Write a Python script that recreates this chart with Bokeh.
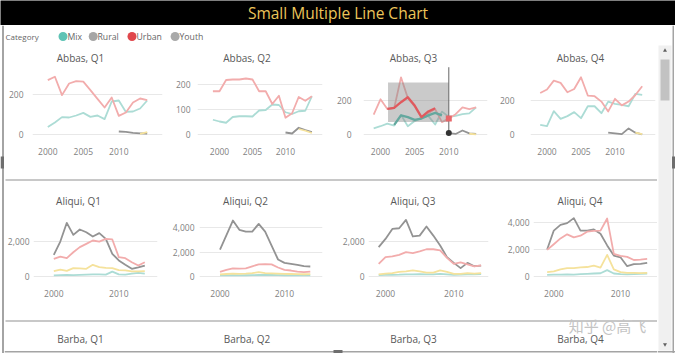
from bokeh.plotting import figure
from bokeh.layouts import column, row
from bokeh.models import Range1d, Label, FixedTicker, NumeralTickFormatter
from bokeh.embed import file_html
from bokeh.resources import INLINE
from bokeh.core.properties import value
from bokeh.core.validation import silence
from bokeh.core.validation.warnings import MISSING_RENDERERS

silence(MISSING_RENDERERS, True)

FONT = "Open Sans"

# ---------------- data ----------------
TITLE = "Small Multiple Line Chart"
LEGEND_TITLE = "Category"
CATEGORIES = ["Mix", "Rural", "Urban", "Youth"]

YEARS_00 = [2000, 2001, 2002, 2003, 2004, 2005, 2006, 2007, 2008, 2009, 2010, 2011, 2012, 2013, 2014]
YEARS_99 = [1999, 2000, 2001, 2002, 2003, 2004, 2005, 2006, 2007, 2008, 2009, 2010, 2011, 2012, 2013, 2014]

# Abbas
abbas_q1_mix = [37, 60, 87, 85, 95, 108, 88, 95, 77, 165, 170, 113, 115, 130, 170]
abbas_q1_urban = [272, 289, 197, 255, 267, 264, 222, 178, 135, 185, 93, 110, 160, 180, 172]
abbas_q1_rural_years = [2010, 2011, 2012, 2013, 2014]
abbas_q1_rural = [15, 13, 8, 6, 5]
abbas_q1_youth_years = [2013, 2014]
abbas_q1_youth = [3, 12]

abbas_q2_mix = [59, 52, 47, 70, 73, 73, 72, 96, 98, 120, 118, 89, 82, 93, 95, 153]
abbas_q2_urban = [173, 173, 218, 220, 220, 224, 220, 173, 173, 122, 155, 67, 85, 150, 135, 153]
abbas_q2_rural_years = [2010, 2011, 2012, 2013, 2014]
abbas_q2_rural = [8, 4, 27, 18, 10]
abbas_q2_youth_years = [2012, 2013, 2014]
abbas_q2_youth = [22, 15, 6]

abbas_q3_mix = [38, 50, 65, 54, 116, 50, 80, 100, 110, 60, 135, 105, 110, 120, 125, 160]
abbas_q3_urban = [118, 207, 150, 155, 335, 215, 165, 100, 125, 150, 74, 95, 120, 160, 150, 160]
abbas_q3_rural_years = [2010, 2011, 2012, 2013, 2014]
abbas_q3_rural = [10, 5, 25, 8, 5]
abbas_q3_youth_years = [2013, 2014]
abbas_q3_youth = [6, 3]
# highlighted (selected) portion in Abbas, Q3
abbas_q3_sel_urban_years = [2001, 2002, 2003, 2004, 2005, 2006, 2007, 2008]
abbas_q3_sel_urban = [151, 157, 190, 219, 171, 103, 136, 155]
abbas_q3_sel_mix_years = [2002, 2003, 2004, 2005, 2006, 2007, 2008, 2009]
abbas_q3_sel_mix = [58, 113, 103, 87, 95, 113, 128, 113]
abbas_q3_sel_box_years = [2001.1, 2010]
abbas_q3_sel_box_values = [74, 305]
abbas_q3_hover_year = 2010
abbas_q3_hover_top = 394

abbas_q4_mix = [58, 50, 137, 92, 108, 131, 96, 165, 165, 125, 192, 179, 173, 165, 237, 231]
abbas_q4_urban = [242, 262, 313, 300, 246, 265, 333, 227, 223, 192, 135, 208, 170, 192, 230, 281]
abbas_q4_rural_years = [2009, 2010, 2011, 2012, 2013, 2014]
abbas_q4_rural = [12, 8, 4, 37, 12, 3]
abbas_q4_youth_years = [2013, 2014]
abbas_q4_youth = [12, 4]

# Aliqui
aliqui_q1_mix = [50, 60, 70, 60, 80, 90, 100, 110, 90, 260, 100, 90, 150, 190, 150]
aliqui_q1_rural = [1220, 1980, 3050, 2360, 2670, 2510, 2270, 2460, 2130, 1280, 900, 650, 420, 510, 610]
aliqui_q1_urban = [990, 1120, 1030, 1370, 1660, 1850, 2040, 1980, 2130, 2100, 1090, 1030, 800, 610, 800]
aliqui_q1_youth = [290, 380, 300, 460, 450, 420, 650, 520, 470, 460, 350, 330, 280, 270, 290]

aliqui_q2_mix = [60, 70, 80, 75, 80, 90, 100, 110, 100, 90, 80, 70, 70, 60, 60]
aliqui_q2_rural = [2200, 3400, 4600, 3830, 3690, 3690, 4320, 3690, 2530, 1380, 1100, 1020, 940, 830, 800]
aliqui_q2_urban = [350, 520, 650, 620, 650, 820, 980, 1000, 980, 720, 520, 470, 380, 330, 380]
aliqui_q2_youth = [150, 180, 220, 200, 210, 250, 330, 260, 240, 220, 200, 180, 170, 160, 170]

aliqui_q3_mix = [60, 70, 80, 90, 110, 100, 120, 110, 100, 130, 110, 80, 90, 100, 110, 120]
aliqui_q3_rural = [1660, 2130, 2700, 2740, 3220, 2270, 2320, 2840, 2320, 1750, 1090, 760, 460, 760, 570, 610]
aliqui_q3_urban = [700, 1090, 1130, 1220, 1380, 1320, 1420, 1540, 1540, 1480, 1050, 700, 790, 680, 560, 620]
aliqui_q3_youth = [100, 150, 180, 250, 280, 330, 280, 200, 200, 330, 250, 130, 130, 180, 150, 180]

aliqui_q4_mix = [100, 110, 120, 130, 120, 150, 170, 200, 220, 450, 200, 150, 140, 160, 180, 200]
aliqui_q4_rural = [1980, 3380, 3800, 3930, 4300, 3380, 3380, 3460, 3140, 2280, 1530, 1400, 740, 890, 910, 990]
aliqui_q4_urban = [1950, 2370, 2800, 3100, 2880, 3000, 3300, 3360, 3380, 4270, 1650, 1500, 1430, 1200, 1230, 1280]
aliqui_q4_youth = [300, 350, 500, 600, 600, 650, 680, 780, 640, 1580, 500, 300, 250, 250, 230, 250]

ROW3_TITLES = ["Barba, Q1", "Barba, Q2", "Barba, Q3", "Barba, Q4"]
WATERMARK = "知乎 @高飞"

# ---------------- styles ----------------
LEGEND_COLORS = ["#5ec3b5", "#a6a6a6", "#e0474c", "#a9a9a9"]
C_MIX = "#acdcd5"
C_RURAL = "#939393"
C_URBAN = "#f2acac"
C_YOUTH = "#f5e29c"
LW = 1.8
SEP_COLOR = "#c8c8c8"
BORDER_COLOR = "#a4a4a4"


def base_fig(w, h, xr, yr, bg="#ffffff"):
    p = figure(width=w, height=h, x_range=Range1d(*xr), y_range=Range1d(*yr),
               x_axis_type=None, y_axis_type=None, toolbar_location=None,
               output_backend="svg", min_border=0, title=None,
               background_fill_color=bg, border_fill_color=bg,
               outline_line_color=None)
    return p


def make_panel(spec):
    px0, py0, pw, ph = spec["box"]
    fl, fr, ft, fb = spec["frame"]
    (xa, pa), (xb, pb) = spec["xcal"]
    (va, qa), (vb, qb) = spec["ycal"]
    sx = (pb - pa) / (xb - xa)
    sy = (qa - qb) / (vb - va)
    xr = Range1d(xa + (fl - pa) / sx, xa + (fr - pa) / sx)
    yr = Range1d(va + (qa - fb) / sy, va + (qa - ft) / sy)
    p = figure(width=pw, height=ph, x_range=xr, y_range=yr, title=None,
               toolbar_location=None, output_backend="svg",
               min_border_left=fl - px0, min_border_right=px0 + pw - fr,
               min_border_top=ft - py0, min_border_bottom=py0 + ph - fb,
               background_fill_color="#ffffff", border_fill_color="#ffffff",
               outline_line_color=None)
    p.xgrid.visible = False
    p.ygrid.grid_line_color = "#e8e8e8"
    p.ygrid.grid_line_width = 1
    p.xaxis.ticker = FixedTicker(ticks=spec["xticks"])
    p.yaxis.ticker = FixedTicker(ticks=spec["yticks"])
    p.xaxis.formatter = NumeralTickFormatter(format="0")
    p.yaxis.formatter = NumeralTickFormatter(format="0,0")
    for ax in (p.xaxis, p.yaxis):
        ax.axis_line_color = None
        ax.major_tick_line_color = None
        ax.minor_tick_line_color = None
        ax.major_tick_out = 0
        ax.major_tick_in = 0
        ax.minor_tick_out = 0
        ax.major_label_text_font = FONT
        ax.major_label_text_font_size = "8.5px"
        ax.major_label_text_color = "#7f7f7f"
    p.xaxis.major_label_standoff = 5
    p.yaxis.major_label_standoff = spec["standoff"]

    for xs, ys, c in spec["series"]:
        p.line(xs, ys, line_color=c, line_width=LW, line_join="round")

    tcx, tcy = spec["title_at"]
    p.add_layout(Label(x=xa + (tcx - pa) / sx, y=va + (qa - tcy) / sy,
                       text=spec["title"], text_align="center",
                       text_baseline="middle", text_font=FONT,
                       text_font_size="10px", text_color="#595959"))
    return p


# ---------------- header ----------------
header = base_fig(675, 25, (0, 675), (25, 0), bg="#000000")
header.add_layout(Label(x=337.5, y=12.5, text=TITLE, text_align="center",
                        text_baseline="middle", text_font=FONT,
                        text_font_size="15.5px", text_color="#ECC55A"))

# ---------------- legend ----------------
LEGEND_DOT_X = [58.5, 88.7, 127.5, 170.6]
LEGEND_TEXT_X = [63, 93, 132, 175]
leg = base_fig(653, 21, (0, 653), (21, 0))
leg.add_layout(Label(x=1, y=11, text=LEGEND_TITLE, text_baseline="middle",
                     text_font=FONT, text_font_size="8px", text_color="#666666"))
leg.scatter(x=LEGEND_DOT_X, y=[11] * len(CATEGORIES), size=9,
            fill_color=LEGEND_COLORS, line_color=None)
leg.text(x=LEGEND_TEXT_X, y=[11] * len(CATEGORIES), text=CATEGORIES,
         text_font=value(FONT), text_font_size="8.7px",
         text_baseline="middle", text_color="#666666")

# ---------------- panels ----------------
R1_Y, R1_H = 46, 116
R2_Y, R2_H = 182, 121

row1_specs = [
    dict(box=(4, R1_Y, 162, R1_H), frame=(32, 162, 46, 142),
         xcal=((2000, 47.3), (2010, 118.3)), ycal=((0, 134), (200, 94)),
         xticks=[2000, 2005, 2010], yticks=[0, 200], standoff=9,
         title="Abbas, Q1", title_at=(80, 57),
         series=[(YEARS_00, abbas_q1_mix, C_MIX),
                 (abbas_q1_rural_years, abbas_q1_rural, C_RURAL),
                 (YEARS_00, abbas_q1_urban, C_URBAN),
                 (abbas_q1_youth_years, abbas_q1_youth, C_YOUTH)]),
    dict(box=(166, R1_Y, 164, R1_H), frame=(197, 322, 46, 142),
         xcal=((2000, 219), (2010, 285)), ycal=((0, 134), (200, 84)),
         xticks=[2000, 2005, 2010], yticks=[0, 100, 200], standoff=7,
         title="Abbas, Q2", title_at=(246.5, 57),
         series=[(YEARS_99, abbas_q2_mix, C_MIX),
                 (abbas_q2_rural_years, abbas_q2_rural, C_RURAL),
                 (YEARS_99, abbas_q2_urban, C_URBAN),
                 (abbas_q2_youth_years, abbas_q2_youth, C_YOUTH)]),
    dict(box=(330, R1_Y, 164, R1_H), frame=(363, 487, 46, 142),
         xcal=((2000, 380), (2010, 448.3)), ycal=((0, 134.3), (200, 100)),
         xticks=[2000, 2005, 2010], yticks=[0, 200], standoff=12,
         title="Abbas, Q3", title_at=(413, 57),
         series=[(YEARS_99, abbas_q3_mix, C_MIX),
                 (abbas_q3_rural_years, abbas_q3_rural, C_RURAL),
                 (YEARS_99, abbas_q3_urban, C_URBAN),
                 (abbas_q3_youth_years, abbas_q3_youth, C_YOUTH)]),
    dict(box=(494, R1_Y, 163, R1_H), frame=(530, 655, 46, 142),
         xcal=((2000, 546.5), (2010, 614.5)), ycal=((0, 134.3), (200, 99.7)),
         xticks=[2000, 2005, 2010], yticks=[0, 200], standoff=16,
         title="Abbas, Q4", title_at=(580, 57),
         series=[(YEARS_99, abbas_q4_mix, C_MIX),
                 (abbas_q4_rural_years, abbas_q4_rural, C_RURAL),
                 (YEARS_99, abbas_q4_urban, C_URBAN),
                 (abbas_q4_youth_years, abbas_q4_youth, C_YOUTH)]),
]

row2_specs = [
    dict(box=(4, R2_Y, 162, R2_H), frame=(33, 157, 182, 284),
         xcal=((2000, 53.3), (2010, 118.3)), ycal=((0, 275.7), (2000, 240.7)),
         xticks=[2000, 2010], yticks=[0, 2000], standoff=4,
         title="Aliqui, Q1", title_at=(78, 200),
         series=[(YEARS_00, aliqui_q1_mix, C_MIX),
                 (YEARS_00, aliqui_q1_rural, C_RURAL),
                 (YEARS_00, aliqui_q1_urban, C_URBAN),
                 (YEARS_00, aliqui_q1_youth, C_YOUTH)]),
    dict(box=(166, R2_Y, 164, R2_H), frame=(199, 322, 182, 284),
         xcal=((2000, 219.5), (2010, 284)), ycal=((0, 275.7), (4000, 227.3)),
         xticks=[2000, 2010], yticks=[0, 2000, 4000], standoff=5,
         title="Aliqui, Q2", title_at=(245, 200),
         series=[(YEARS_00, aliqui_q2_mix, C_MIX),
                 (YEARS_00, aliqui_q2_rural, C_RURAL),
                 (YEARS_00, aliqui_q2_urban, C_URBAN),
                 (YEARS_00, aliqui_q2_youth, C_YOUTH)]),
    dict(box=(330, R2_Y, 164, R2_H), frame=(368, 488, 182, 284),
         xcal=((2000, 385), (2010, 453.3)), ycal=((0, 275.7), (2000, 240.7)),
         xticks=[2000, 2010], yticks=[0, 2000], standoff=4,
         title="Aliqui, Q3", title_at=(412.5, 200),
         series=[(YEARS_99, aliqui_q3_mix, C_MIX),
                 (YEARS_99, aliqui_q3_rural, C_RURAL),
                 (YEARS_99, aliqui_q3_urban, C_URBAN),
                 (YEARS_99, aliqui_q3_youth, C_YOUTH)]),
    dict(box=(494, R2_Y, 163, R2_H), frame=(533, 657, 182, 284),
         xcal=((2000, 553.3), (2010, 620)), ycal=((0, 275.7), (4000, 221.7)),
         xticks=[2000, 2010], yticks=[0, 2000, 4000], standoff=4,
         title="Aliqui, Q4", title_at=(579.5, 200),
         series=[(YEARS_99, aliqui_q4_mix, C_MIX),
                 (YEARS_99, aliqui_q4_rural, C_RURAL),
                 (YEARS_99, aliqui_q4_urban, C_URBAN),
                 (YEARS_99, aliqui_q4_youth, C_YOUTH)]),
]

row1 = [make_panel(s) for s in row1_specs]
row2 = [make_panel(s) for s in row2_specs]

# selection / hover state in Abbas, Q3
p3 = row1[2]
p3.quad(left=[abbas_q3_sel_box_years[0]], right=[abbas_q3_sel_box_years[1]],
        bottom=[abbas_q3_sel_box_values[0]], top=[abbas_q3_sel_box_values[1]],
        fill_color="#8a8a8a", fill_alpha=0.45, line_color=None)
p3.line(abbas_q3_sel_mix_years, abbas_q3_sel_mix, line_color="#64a89e",
        line_width=2.3, line_join="round")
p3.line(abbas_q3_sel_urban_years, abbas_q3_sel_urban, line_color="#e05a5e",
        line_width=2.3, line_join="round")
p3.segment(x0=[abbas_q3_hover_year], y0=[0], x1=[abbas_q3_hover_year],
           y1=[abbas_q3_hover_top], line_color="#666666", line_width=1)
hover_urban = abbas_q3_urban[YEARS_99.index(abbas_q3_hover_year)]
hover_rural = abbas_q3_rural[abbas_q3_rural_years.index(abbas_q3_hover_year)]
p3.scatter([abbas_q3_hover_year], [hover_urban], marker="square", size=6,
           fill_color="#e8676a", line_color=None)
p3.scatter([abbas_q3_hover_year], [hover_rural], marker="circle", size=6,
           fill_color="#333333", line_color=None)

# ---------------- separator between rows 1 and 2 ----------------
sep1 = base_fig(653, 20, (0, 653), (20, 0))
sep1.quad(left=[1], right=[653], top=[16.5], bottom=[18.5],
          fill_color=SEP_COLOR, line_color=None)

# ---------------- row 3 (separator, titles, bottom border) ----------------
row3 = base_fig(653, 50, (0, 653), (50, 0))
row3.quad(left=[1], right=[653], top=[16.5], bottom=[18.5],
          fill_color=SEP_COLOR, line_color=None)
row3.quad(left=[0], right=[653], top=[47.5], bottom=[49],
          fill_color=BORDER_COLOR, line_color=None)
row3.quad(left=[329], right=[338], top=[46.5], bottom=[50],
          fill_color="#6e6e6e", line_color=None)
ROW3_X = [76, 242.5, 409, 576]
for tx, t in zip(ROW3_X, ROW3_TITLES):
    row3.add_layout(Label(x=tx, y=35, text=t, text_align="center",
                          text_baseline="middle", text_font=FONT,
                          text_font_size="10px", text_color="#595959"))
row3.add_layout(Label(x=603, y=22, text=WATERMARK, text_align="center",
                      text_baseline="middle", text_font="Noto Sans CJK SC",
                      text_font_size="15px", text_color="#c4c4c4"))

# ---------------- left border / scrollbar ----------------
left_border = base_fig(4, 328, (0, 4), (328, 0))
left_border.quad(left=[1.5], right=[3.5], top=[0], bottom=[328],
                 fill_color=BORDER_COLOR, line_color=None)
left_border.quad(left=[0], right=[4], top=[131], bottom=[143],
                 fill_color="#6e6e6e", line_color=None)

scroll = base_fig(18, 328, (0, 18), (328, 0))
scroll.quad(left=[1], right=[14], top=[20], bottom=[325],
            fill_color="#f0f0f0", line_color=None)
scroll.quad(left=[3], right=[12], top=[34], bottom=[75],
            fill_color="#c2c2c2", line_color=None)
scroll.scatter([7.5], [25], marker="triangle", size=4, fill_color="#606060", line_color=None)
scroll.scatter([7.5], [319], marker="inverted_triangle", size=4, fill_color="#606060", line_color=None)
scroll.quad(left=[15], right=[16.5], top=[0], bottom=[328],
            fill_color=BORDER_COLOR, line_color=None)
scroll.quad(left=[0], right=[18], top=[325.5], bottom=[327],
            fill_color=BORDER_COLOR, line_color=None)
scroll.quad(left=[14.5], right=[18], top=[131], bottom=[143],
            fill_color="#6e6e6e", line_color=None)

content = column(leg, row(*row1, spacing=0), sep1, row(*row2, spacing=0),
                 row3, spacing=0)
body = row(left_border, content, scroll, spacing=0)
layout = column(header, body, spacing=0)

open("out.html", "w").write(file_html(layout, INLINE))
